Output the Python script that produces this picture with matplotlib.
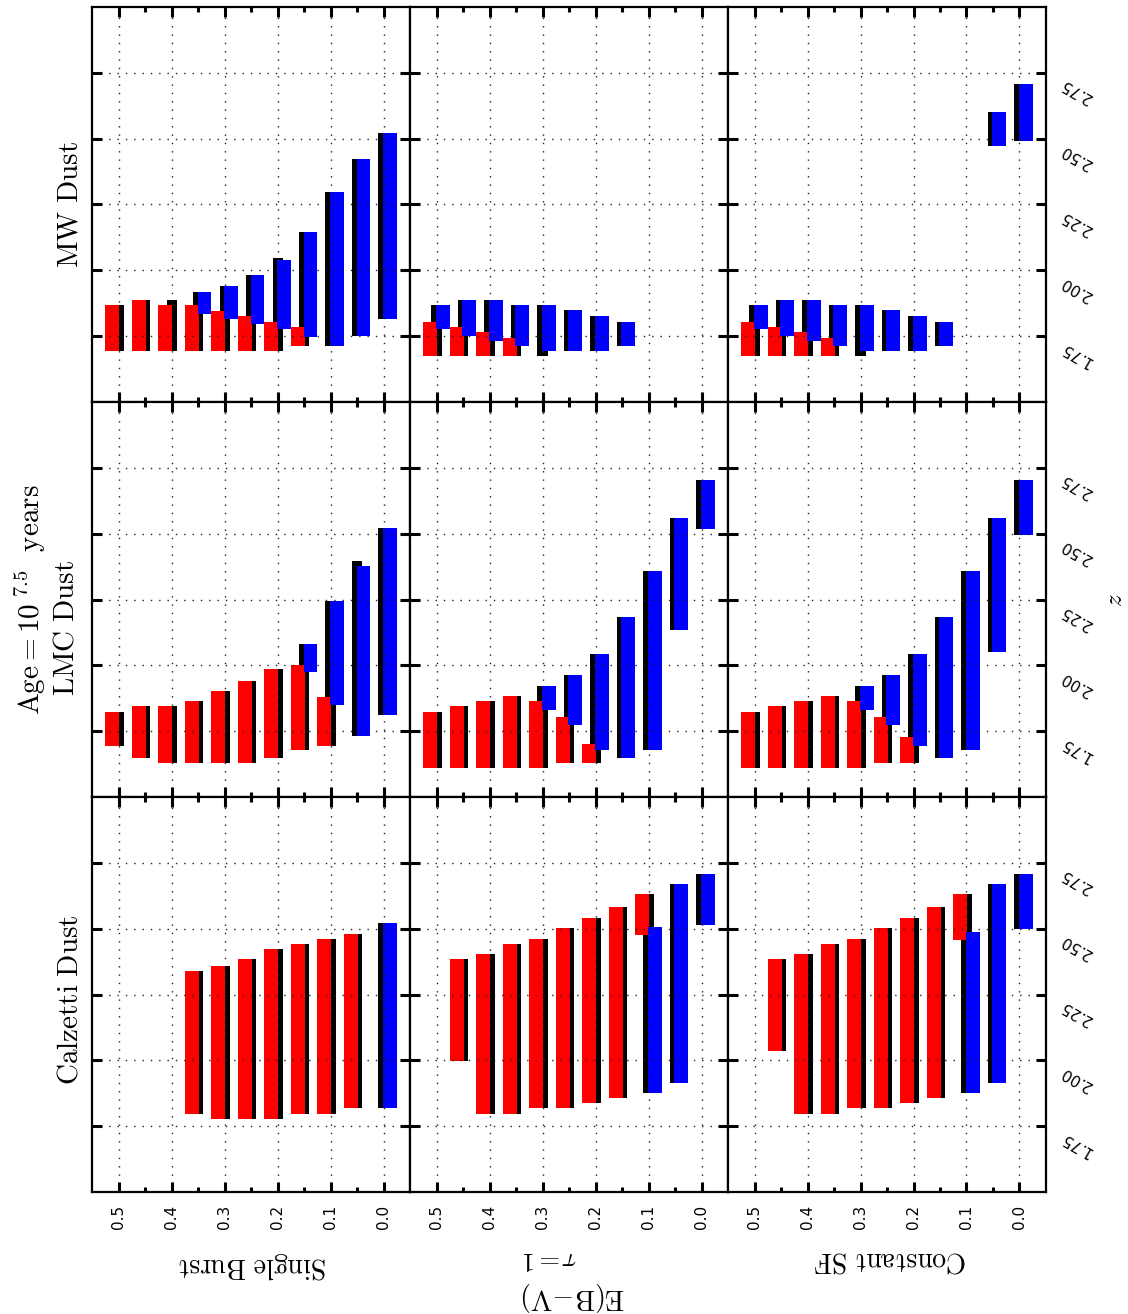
import matplotlib
matplotlib.use('Agg')
import matplotlib.pyplot as plt
import matplotlib.transforms as mtransforms
import numpy as np

plt.rcParams['mathtext.fontset'] = 'cm'
plt.rcParams['font.family'] = ['DejaVu Sans']

# colour excess grid shared by every panel
ebv = [0.5, 0.45, 0.4, 0.35, 0.3, 0.25, 0.2, 0.15, 0.1, 0.05, 0.0]
z_ticks = [1.75, 2.00, 2.25, 2.50, 2.75]

row_labels = [r'$\mathrm{MW\ Dust}$', r'$\mathrm{LMC\ Dust}$', r'$\mathrm{Calzetti\ Dust}$']
col_labels = [r'$\mathrm{Single\ Burst}$', r'$\tau{=}1$', r'$\mathrm{Constant\ SF}$']

N = None

# redshift ranges (z_lo, z_hi) per E(B-V); red / blue / black selections
mw_burst_red = [(1.693, 1.867), (1.693, 1.889), (1.693, 1.867), (1.693, 1.867), (1.693, 1.847),
                (1.693, 1.828), (1.693, 1.803), (1.712, 1.784), N, N, N]
mw_burst_blue = [N, N, N, (1.836, 1.918), (1.816, 1.939), (1.798, 1.984), (1.778, 2.040),
                 (1.748, 2.145), (1.712, 2.299), (1.750, 2.422), (1.816, 2.520)]
mw_burst_black = [(1.693, 1.867), (1.693, 1.889), (1.693, 1.889), (1.693, 1.918), (1.693, 1.939),
                  (1.693, 1.984), (1.693, 2.047), (1.712, 2.145), (1.712, 2.299), (1.750, 2.422),
                  (1.816, 2.520)]

mw_tau_red = [(1.674, 1.803), (1.674, 1.784), (1.674, 1.765), (1.674, 1.744), N, N, N, N, N, N, N]
mw_tau_blue = [(1.778, 1.867), (1.750, 1.886), (1.731, 1.886), (1.712, 1.867), (1.693, 1.867),
               (1.693, 1.848), (1.693, 1.828), (1.712, 1.803), N, N, N]
mw_tau_black = [(1.674, 1.867), (1.674, 1.886), (1.674, 1.886), (1.674, 1.867), (1.674, 1.867),
                (1.693, 1.848), (1.693, 1.828), (1.712, 1.803), N, N, N]

mw_const_red = [(1.674, 1.803), (1.674, 1.784), (1.674, 1.765), (1.674, 1.744), N, N, N, N, N, N, N]
mw_const_blue = [(1.778, 1.867), (1.750, 1.886), (1.731, 1.886), (1.712, 1.867), (1.693, 1.867),
                 (1.693, 1.848), (1.693, 1.828), (1.712, 1.803), N, (2.473, 2.602), (2.492, 2.706)]
mw_const_black = [(1.674, 1.867), (1.674, 1.886), (1.674, 1.886), (1.674, 1.867), (1.674, 1.867),
                  (1.693, 1.848), (1.693, 1.828), (1.712, 1.803), N, (2.473, 2.602), (2.492, 2.706)]

lmc_burst_red = [(1.695, 1.824), (1.649, 1.845), (1.630, 1.845), (1.630, 1.864), (1.630, 1.902),
                 (1.630, 1.939), (1.649, 1.986), (1.677, 2.002), (1.695, 1.881), N, N]
lmc_burst_blue = [N, N, N, N, N, N, N, (1.973, 2.081), (1.851, 2.245), (1.733, 2.377), (1.812, 2.523)]
lmc_burst_black = [(1.695, 1.824), (1.649, 1.845), (1.630, 1.845), (1.630, 1.864), (1.630, 1.902),
                   (1.630, 1.939), (1.649, 1.986), (1.677, 2.081), (1.695, 2.245), (1.733, 2.396),
                   (1.812, 2.523)]

lmc_tau_red = [(1.611, 1.824), (1.611, 1.845), (1.611, 1.864), (1.611, 1.883), (1.611, 1.864),
               (1.630, 1.805), (1.630, 1.702), N, N, N, N]
lmc_tau_blue = [N, N, N, N, (1.832, 1.920), (1.774, 1.963), (1.677, 2.043), (1.649, 2.184),
                (1.677, 2.358), (2.135, 2.561), (2.518, 2.702)]
lmc_tau_black = [(1.611, 1.824), (1.611, 1.845), (1.611, 1.864), (1.611, 1.883), (1.611, 1.920),
                 (1.630, 1.963), (1.630, 2.043), (1.649, 2.184), (1.677, 2.358), (2.135, 2.561),
                 (2.518, 2.702)]

lmc_const_red = [(1.611, 1.824), (1.611, 1.845), (1.611, 1.864), (1.611, 1.883), (1.611, 1.864),
                 (1.630, 1.805), (1.630, 1.727), N, N, N, N]
lmc_const_blue = [N, N, N, N, (1.832, 1.920), (1.774, 1.963), (1.695, 2.043), (1.649, 2.184),
                  (1.677, 2.358), (2.049, 2.561), (2.495, 2.702)]
lmc_const_black = [(1.611, 1.824), (1.611, 1.845), (1.611, 1.864), (1.611, 1.883), (1.611, 1.920),
                   (1.630, 1.963), (1.630, 2.043), (1.649, 2.184), (1.677, 2.358), (2.049, 2.561),
                   (2.495, 2.702)]

cal_burst_red = [N, N, N, (1.797, 2.340), (1.778, 2.359), (1.778, 2.384), (1.778, 2.424),
                 (1.797, 2.443), (1.797, 2.462), (1.818, 2.481), N]
cal_burst_blue = [N, N, N, N, N, N, N, N, N, N, (1.818, 2.520)]
cal_burst_black = [N, N, N, (1.797, 2.340), (1.778, 2.359), (1.778, 2.384), (1.778, 2.424),
                   (1.797, 2.443), (1.797, 2.462), (1.818, 2.481), (1.818, 2.520)]

cal_tau_red = [N, (1.999, 2.384), (1.797, 2.403), (1.797, 2.443), (1.818, 2.462), (1.818, 2.501),
               (1.837, 2.539), (1.856, 2.583), (2.475, 2.630), N, N]
cal_tau_blue = [N, N, N, N, N, N, N, N, (1.875, 2.506), (1.914, 2.668), (2.514, 2.708)]
cal_tau_black = [N, (1.999, 2.384), (1.797, 2.403), (1.797, 2.443), (1.818, 2.462), (1.818, 2.501),
                 (1.837, 2.539), (1.856, 2.583), (1.875, 2.630), (1.914, 2.668), (2.514, 2.708)]

cal_const_red = [N, (2.037, 2.384), (1.797, 2.403), (1.797, 2.443), (1.818, 2.462), (1.818, 2.501),
                 (1.837, 2.539), (1.856, 2.583), (2.456, 2.630), N, N]
cal_const_blue = [N, N, N, N, N, N, N, N, (1.875, 2.487), (1.914, 2.668), (2.497, 2.708)]
cal_const_black = [N, (2.037, 2.384), (1.797, 2.403), (1.797, 2.443), (1.818, 2.462), (1.818, 2.501),
                   (1.837, 2.539), (1.856, 2.583), (1.875, 2.630), (1.914, 2.668), (2.497, 2.708)]

panels = [
    [(mw_burst_red, mw_burst_blue, mw_burst_black),
     (mw_tau_red, mw_tau_blue, mw_tau_black),
     (mw_const_red, mw_const_blue, mw_const_black)],
    [(lmc_burst_red, lmc_burst_blue, lmc_burst_black),
     (lmc_tau_red, lmc_tau_blue, lmc_tau_black),
     (lmc_const_red, lmc_const_blue, lmc_const_black)],
    [(cal_burst_red, cal_burst_blue, cal_burst_black),
     (cal_tau_red, cal_tau_blue, cal_tau_black),
     (cal_const_red, cal_const_blue, cal_const_black)],
]

W = 0.026     # coloured bar width
WB = 0.019    # black backing bar width


def floating_bars(ax, ranges, offset, width, color):
    for e, r in zip(ebv, ranges):
        if r is None:
            continue
        lo, hi = r
        ax.bar(e + offset, hi - lo, width=width, bottom=lo, align='edge',
               color=color, edgecolor='none', linewidth=0)


fig = plt.figure(figsize=(11.28, 13.14), dpi=100)
axes = fig.subplots(3, 3, sharex=True, sharey=True)
fig.subplots_adjust(left=0.0816, right=0.9273, top=0.9947, bottom=0.0928, wspace=0, hspace=0)

for i in range(3):
    for j in range(3):
        ax = axes[i, j]
        red, blue, black = panels[i][j]
        floating_bars(ax, black, -WB / 2, WB, 'black')
        floating_bars(ax, red, -0.001, W, '#ff0000')
        floating_bars(ax, blue, 0.001, -W, '#0000ff')

        ax.set_xlim(0.55, -0.05)
        ax.set_ylim(1.5, 3.0)
        ax.set_xticks([0.5, 0.4, 0.3, 0.2, 0.1, 0.0])
        ax.set_xticks(np.arange(0.05, 0.5, 0.1), minor=True)
        ax.set_yticks(z_ticks)
        ax.grid(True, which='major', color='#222222', linestyle=(0, (1, 5)), linewidth=1.0)
        ax.tick_params(which='both', direction='in', top=True, right=True,
                       left=True, bottom=True, labelleft=False, labelright=False,
                       labelbottom=(i == 2), width=2.2)
        ax.tick_params(which='major', length=7)
        ax.tick_params(which='minor', length=3.5)
        ax.tick_params(axis='x', labelrotation=90, labelsize=11, pad=9)
        for sp in ax.spines.values():
            sp.set_linewidth(1.6)

        if j == 2:
            shift = mtransforms.ScaledTranslation(0.30, -0.18, fig.dpi_scale_trans)
            trans = mtransforms.blended_transform_factory(ax.transAxes, ax.transData) + shift
            for zt in z_ticks:
                ax.text(1.0, zt, f'{zt:.2f}', transform=trans, rotation=150,
                        ha='center', va='center', fontsize=11)

# row titles
fig.text(0.062, 1 - 205 / 1314, row_labels[0], rotation=90, ha='center', va='center', fontsize=21)
fig.text(0.058, 1 - 628 / 1314, row_labels[1], rotation=90, ha='center', va='center', fontsize=21)
fig.text(0.027, 1 - 600 / 1314, r'$\mathrm{Age} = 10^{\ 7.5}\ \ \mathrm{years}$',
         rotation=90, ha='center', va='center', fontsize=21)
fig.text(0.062, 1 - 1000 / 1314, row_labels[2], rotation=90, ha='center', va='center', fontsize=21)

# column titles, printed upside down
fig.text(253 / 1128, 1 - 1266 / 1314, col_labels[0], rotation=180, ha='center', va='center', fontsize=20)
fig.text(550 / 1128, 1 - 1259 / 1314, col_labels[1], rotation=180, ha='center', va='center', fontsize=19)
fig.text(573 / 1128, 1 - 1296 / 1314, r'$\mathrm{E(B\!-\!V)}$', rotation=180,
         ha='center', va='center', fontsize=20)
fig.text(890 / 1128, 1 - 1261 / 1314, col_labels[2], rotation=180, ha='center', va='center', fontsize=20)

fig.text(1115 / 1128, 1 - 600 / 1314, r'$z$', rotation=90, ha='center', va='center', fontsize=18)

fig.savefig('out.png', dpi=100)
